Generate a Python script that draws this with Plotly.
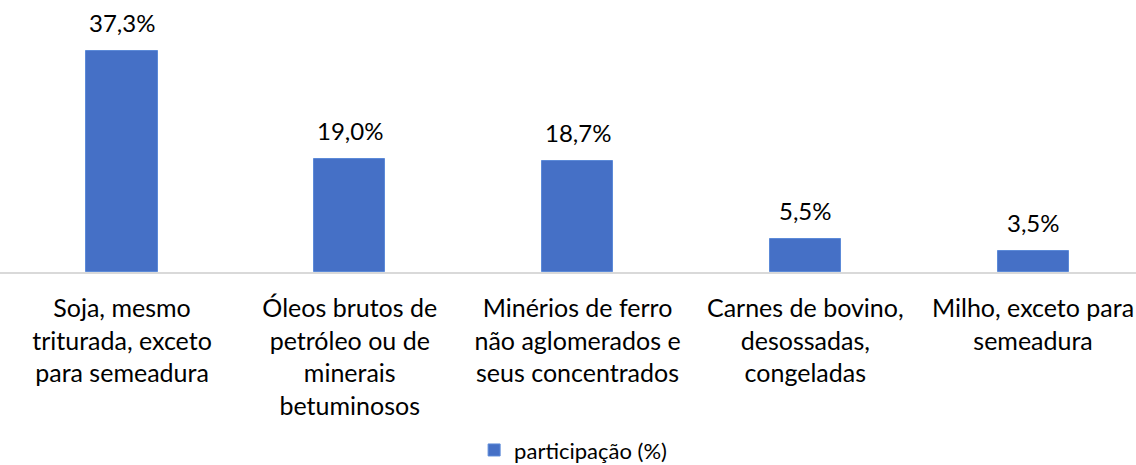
import plotly.graph_objects as go

categories = [
    "Soja, mesmo<br>triturada, exceto<br>para semeadura",
    "Óleos brutos de<br>petróleo ou de<br>minerais<br>betuminosos",
    "Minérios de ferro<br>não aglomerados e<br>seus concentrados",
    "Carnes de bovino,<br>desossadas,<br>congeladas",
    "Milho, exceto para<br>semeadura",
]
values = [37.3, 19.0, 18.7, 5.5, 3.5]
value_labels = ["37,3%", "19,0%", "18,7%", "5,5%", "3,5%"]
series_name = "participação (%)"

FONT = "Lato, Carlito, Calibri, sans-serif"
BAR_COLOR = "#4570C6"

fig = go.Figure()
fig.add_trace(go.Bar(
    x=categories,
    y=values,
    name=series_name,
    width=0.312,
    marker=dict(color=BAR_COLOR, line=dict(color="#5C8AD8", width=1)),
    showlegend=True,
))

for c, v, t in zip(categories, values, value_labels):
    fig.add_annotation(
        x=c, y=v, text=t, showarrow=False,
        yanchor="bottom", yshift=12,
        font=dict(family=FONT, size=24, color="#000000"),
    )

fig.update_layout(
    width=1136, height=465,
    margin=dict(l=0, r=0, t=0, b=193, autoexpand=False),
    paper_bgcolor="white", plot_bgcolor="white",
    bargap=0.0,
    showlegend=True,
    legend=dict(
        orientation="h", x=0.5045, xanchor="center", y=-0.655, yanchor="middle",
        font=dict(family=FONT, size=22, color="#000000"),
        itemwidth=30,
    ),
    xaxis=dict(
        type="category",
        range=[-0.5357, 4.452],
        showline=True, linecolor="#D9D9D9", linewidth=2,
        ticks="", showgrid=False,
        tickfont=dict(family=FONT, size=25, color="#000000"),
        ticklabelstandoff=13,
    ),
    yaxis=dict(
        range=[0, 45.9], visible=False, showgrid=False, zeroline=False,
    ),
)

fig.write_html(
    "out.html",
    config={"displayModeBar": False},
    post_script="document.body.style.margin='0';document.body.style.overflow='hidden';",
)
